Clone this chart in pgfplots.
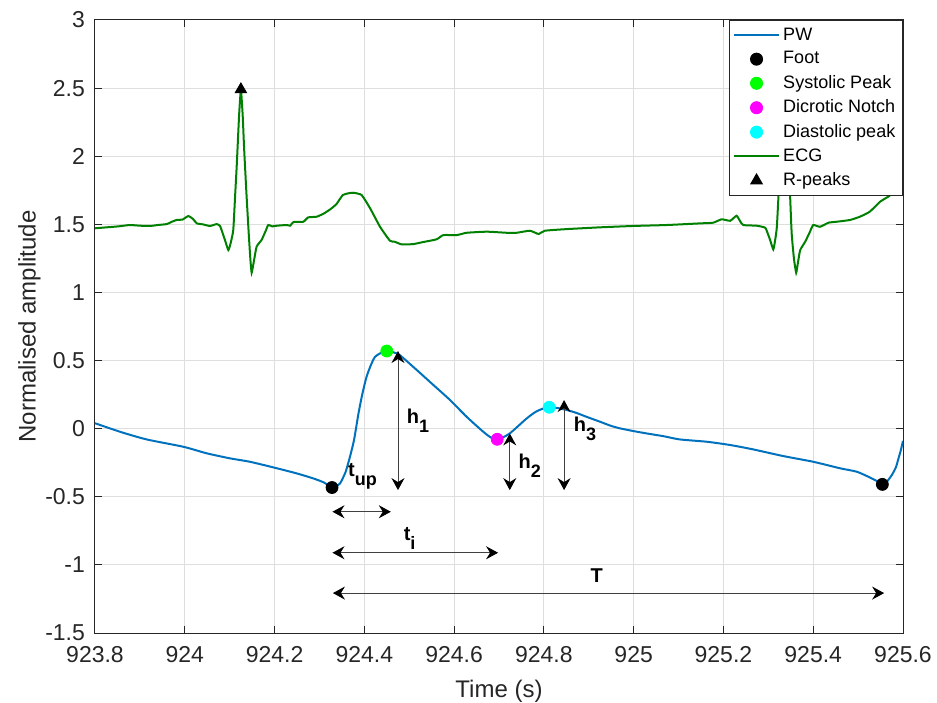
\documentclass[border=0pt]{standalone}
\usepackage{fontspec}
\setmainfont{Liberation Sans}
\usepackage{pgfplots}
\pgfplotsset{compat=1.18}
\usetikzlibrary{arrows.meta}

\definecolor{pwblue}{rgb}{0,0.447,0.741}
\definecolor{ecggreen}{rgb}{0,0.5,0}
\definecolor{axgray}{rgb}{0.15,0.15,0.15}
\definecolor{gridgray}{rgb}{0.87,0.87,0.87}

% bold label with a lowered subscript, as MATLAB draws h_1
\newcommand{\lab}[2]{\textbf{#1\raisebox{-4.5pt}{\fontsize{9}{9}\selectfont\bfseries #2}}}

\begin{document}
\begin{tikzpicture}
\begin{axis}[
  name=ax,
  scale only axis,
  width=404pt, height=306.5pt,
  xmin=923.8, xmax=925.6,
  ymin=-1.5, ymax=3,
  xtick={923.8,924,924.2,924.4,924.6,924.8,925,925.2,925.4,925.6},
  ytick={-1.5,-1,-0.5,0,0.5,1,1.5,2,2.5,3},
  scaled ticks=false,
  /pgf/number format/assume math mode=true,
  ticklabel style={font=\fontsize{11.5}{13}\selectfont, text=axgray},
  xticklabel style={yshift=-3pt, /pgf/number format/.cd, fixed, precision=1, 1000 sep={}},
  yticklabel style={xshift=-1.5pt},
  label style={font=\fontsize{12}{14}\selectfont, text=axgray},
  xlabel style={yshift=-2pt},
  ylabel style={yshift=-4.5pt},
  xlabel={Time (s)},
  ylabel={Normalised amplitude},
  axis line style={axgray, line width=0.5pt},
  tick style={axgray, line width=0.5pt},
  tick align=inside,
  major tick length=3.5pt,
  grid=major,
  major grid style={gridgray, line width=0.5pt},
  legend style={
    at={(1,1)}, anchor=north east,
    draw=axgray, fill=white, line width=0.5pt,
    font=\fontsize{9}{10}\selectfont,
    legend cell align=left,
    row sep=1pt,
    inner xsep=2pt, inner ysep=2pt,
    nodes={inner sep=1.6pt},
  },
  lineleg/.style={legend image code/.code={\draw[##1, mark=none] (0pt,0pt) -- (22.5pt,0pt);}},
  markleg/.style={legend image code/.code={\draw[##1] plot coordinates {(11.25pt,0pt)};}},
]

% pulse wave
\addplot[pwblue, line width=1pt, smooth, tension=0.4, lineleg] table {
923.800 0.040
923.856 -0.023
923.915 -0.079
923.997 -0.133
924.049 -0.181
924.101 -0.218
924.145 -0.243
924.197 -0.284
924.249 -0.328
924.286 -0.365
924.310 -0.395
924.328 -0.432
924.340 -0.418
924.346 -0.402
924.358 -0.320
924.368 -0.206
924.377 -0.084
924.387 0.112
924.396 0.261
924.405 0.381
924.415 0.470
924.424 0.528
924.437 0.556
924.450 0.570
924.465 0.560
924.479 0.540
924.517 0.430
924.554 0.320
924.591 0.210
924.628 0.087
924.665 -0.023
924.682 -0.065
924.696 -0.078
924.710 -0.062
924.724 -0.035
924.743 0.020
924.762 0.076
924.780 0.120
924.796 0.145
924.812 0.157
924.830 0.152
924.851 0.137
924.873 0.115
924.895 0.087
924.925 0.051
924.950 0.020
924.970 0.002
925.000 -0.018
925.029 -0.035
925.066 -0.055
925.103 -0.079
925.163 -0.096
925.215 -0.120
925.266 -0.152
925.333 -0.201
925.400 -0.243
925.460 -0.291
925.497 -0.316
925.526 -0.358
925.542 -0.385
925.554 -0.409
925.565 -0.385
925.575 -0.341
925.584 -0.285
925.590 -0.218
925.595 -0.160
925.600 -0.090
};
\addlegendentry{PW}

\addplot[only marks, mark=*, mark size=3pt, black, markleg] coordinates {
  (924.328,-0.432) (925.554,-0.409)
};
\addlegendentry{Foot}

\addplot[only marks, mark=*, mark size=3pt, color={rgb,1:red,0;green,1;blue,0}, markleg] coordinates {
  (924.450,0.570)
};
\addlegendentry{Systolic Peak}

\addplot[only marks, mark=*, mark size=3pt, color={rgb,1:red,1;green,0;blue,1}, markleg] coordinates {
  (924.696,-0.078)
};
\addlegendentry{Dicrotic Notch}

\addplot[only marks, mark=*, mark size=3pt, color={rgb,1:red,0;green,1;blue,1}, markleg] coordinates {
  (924.812,0.157)
};
\addlegendentry{Diastolic peak}

% ECG
\addplot[ecggreen, line width=1pt, smooth, tension=0.3, lineleg] table {
923.800 1.471
923.826 1.478
923.852 1.485
923.878 1.495
923.900 1.490
923.923 1.488
923.940 1.495
923.960 1.502
923.972 1.520
923.982 1.532
923.995 1.535
924.008 1.561
924.018 1.540
924.027 1.507
924.040 1.500
924.056 1.488
924.071 1.502
924.078 1.490
924.082 1.458
924.090 1.380
924.097 1.311
924.102 1.360
924.108 1.458
924.112 1.700
924.116 1.948
924.121 2.300
924.125 2.486
924.129 2.300
924.132 2.070
924.137 1.750
924.142 1.458
924.146 1.250
924.149 1.145
924.154 1.230
924.160 1.336
924.171 1.385
924.180 1.450
924.186 1.495
924.195 1.485
924.205 1.490
924.227 1.495
924.235 1.490
924.242 1.517
924.264 1.519
924.275 1.551
924.294 1.556
924.310 1.580
924.324 1.610
924.338 1.649
924.352 1.715
924.365 1.728
924.375 1.732
924.394 1.715
924.413 1.617
924.435 1.482
924.457 1.380
924.468 1.372
924.483 1.353
924.509 1.355
924.531 1.370
924.561 1.390
924.576 1.421
924.606 1.421
924.628 1.438
924.673 1.446
924.717 1.438
924.739 1.438
924.769 1.453
924.788 1.429
924.802 1.453
924.851 1.465
924.925 1.478
924.999 1.488
925.074 1.495
925.148 1.507
925.177 1.512
925.196 1.537
925.215 1.526
925.229 1.563
925.236 1.530
925.244 1.495
925.274 1.490
925.293 1.475
925.299 1.430
925.304 1.385
925.311 1.316
925.315 1.380
925.319 1.482
925.324 1.801
925.330 2.200
925.337 2.486
925.341 2.250
925.344 2.050
925.348 1.750
925.352 1.434
925.357 1.250
925.362 1.145
925.366 1.220
925.371 1.311
925.382 1.372
925.392 1.440
925.400 1.495
925.415 1.482
925.434 1.512
925.452 1.519
925.482 1.532
925.504 1.556
925.526 1.593
925.549 1.666
925.567 1.703
925.582 1.739
925.600 1.740
};
\addlegendentry{ECG}

\addplot[only marks, mark=triangle*, mark size=3.3pt, black, markleg] coordinates {
  (924.125,2.49) (925.337,2.49)
};
\addlegendentry{R-peaks}

% annotations
\begin{scope}[black!75, line width=0.5pt, {Stealth[length=6pt,width=6.5pt,inset=2pt,black]}-{Stealth[length=6pt,width=6.5pt,inset=2pt,black]}]
  \draw (axis cs:924.475,0.570) -- (axis cs:924.475,-0.451);
  \draw (axis cs:924.724,-0.035) -- (axis cs:924.724,-0.451);
  \draw (axis cs:924.845,0.210) -- (axis cs:924.845,-0.451);
  \draw (axis cs:924.329,-0.610) -- (axis cs:924.459,-0.610);
  \draw (axis cs:924.329,-0.911) -- (axis cs:924.698,-0.911);
  \draw (axis cs:924.330,-1.207) -- (axis cs:925.558,-1.207);
\end{scope}
\begin{scope}[every node/.style={inner sep=0pt, anchor=base west, font=\fontsize{10}{11}\selectfont}]
  \node at (axis cs:924.494,0.039) {\lab{h}{1}};
  \node at (axis cs:924.743,-0.291) {\lab{h}{2}};
  \node at (axis cs:924.866,-0.023) {\lab{h}{3}};
  \node at (axis cs:924.363,-0.353) {\lab{t}{up}};
  \node at (axis cs:924.487,-0.818) {\lab{t}{i}};
  \node at (axis cs:924.903,-1.126) {\textbf{T}};
\end{scope}
\end{axis}
\pgfresetboundingbox
\path (ax.south west) ++(-47.5pt,-34.5pt) coordinate (bl);
\path (ax.north east) ++(17pt,10pt) coordinate (tr);
\path[use as bounding box] (bl) rectangle (tr);
\end{tikzpicture}
\end{document}
